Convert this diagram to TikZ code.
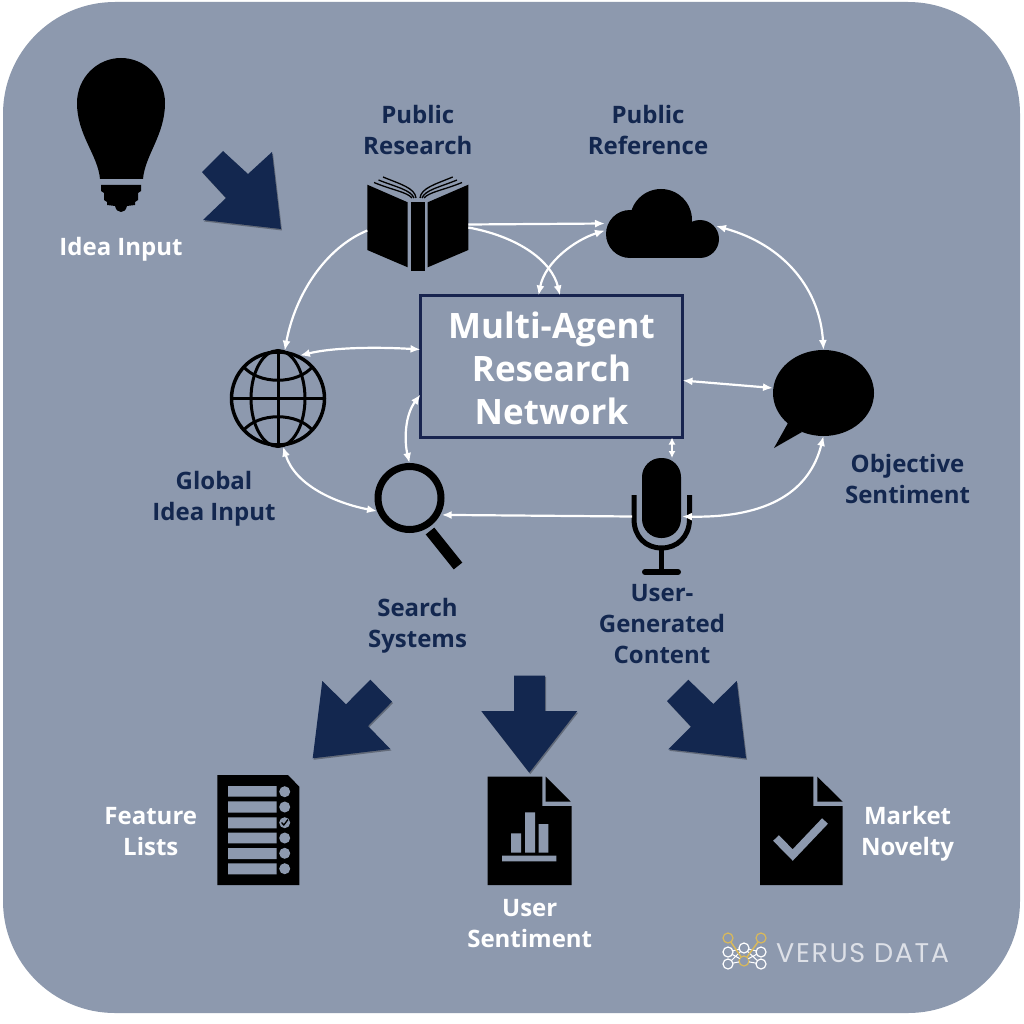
\documentclass[tikz,border=0pt]{standalone}
\usepackage{fontspec}
\setmainfont{Open Sans}
\newfontfamily\logofont{Poppins}[LetterSpace=6]
\usepackage{xcolor}
\usepackage{tikz}
\usetikzlibrary{positioning, arrows, arrows.meta, shadows, shapes.geometric}

\definecolor{slatebg}{HTML}{8D99AE}
\definecolor{navyink}{HTML}{13274F}
\definecolor{netborder}{HTML}{18244F}
\definecolor{logogold}{HTML}{D9B95A}

\begin{document}
\begin{tikzpicture}[
    x=1pt, y=-1pt,
    iconbox/.style 2 args = {rectangle, minimum width=#1, minimum height=#2,
                  inner sep=0pt, outer sep=0pt},
    navylabel/.style = {text=navyink, align=center, inner sep=0pt, font=\fontsize{24}{31}\selectfont\bfseries},
    whitelabel/.style = {text=white, align=center, inner sep=0pt, font=\fontsize{24}{31}\selectfont\bfseries},
    logodot/.style = {circle, draw=#1, line width=1.2pt, minimum size=10pt,
                  inner sep=0pt, outer sep=0pt},
    logodot/.default = white
    ]
            % styles
            \tikzstyle{arrow} = [line width=2.2pt,->,>={Latex[length=10pt,width=8pt]},draw=white]
            \tikzstyle{blockarrow} = [fill=navyink, drop shadow={shadow xshift=1pt, shadow yshift=-1.5pt, opacity=0.3, fill=black}]
            \tikzstyle{ink} = [fill=black]
            \tikzstyle{cutout} = [fill=slatebg]

            \useasboundingbox (0,0) rectangle (1024,1024);
            \fill [white] (0,0) rectangle (1024,1024);
            \fill [slatebg, rounded corners=112pt] (3,2) rectangle (1020,1013);

            % bulb
            \node (bulb) [iconbox={90pt}{156pt}] at (121,135) {};
            \fill [ink] (100,179) .. controls (98,155) and (77,135) .. (77,103) .. controls (77,78) and (97,58) .. (121,58)
                .. controls (145,58) and (165,78) .. (165,103) .. controls (165,135) and (145,155) .. (143,179) -- cycle;
            \fill [ink] (101,185) -- (141,185) -- (141,191) -- (138,193) -- (138,200) -- (135,202) -- (135,205) -- (127,206)
                .. controls (126,210) and (124,212) .. (121,212) .. controls (118,212) and (116,210) .. (115,206)
                -- (107,205) -- (107,202) -- (104,200) -- (104,193) -- (101,191) -- cycle;
            \node (idealab) [whitelabel, below=24pt of bulb] {Idea Input};
            \fill [blockarrow] (223,151) -- (248,174) -- (272,152) -- (281,229) -- (203,220) -- (226,198) -- (202,172) -- cycle;

            % book
            \node (book) [iconbox={101pt}{93pt}] at (417.8,224.5) {};
            \fill [ink] (367.3,184.7) -- (407.7,202.3) -- (407.7,267.3) -- (367.3,250) -- cycle;
            \fill [ink] (411,202.3) rectangle (425,271);
            \fill [ink] (427.7,202.3) -- (468.3,184.7) -- (468.3,250) -- (427.7,267.3) -- cycle;
            \draw [line width=1.3pt] (383,177) .. controls (400,184) and (415,188) .. (416,198);
            \draw [line width=1.3pt] (378.5,180) .. controls (396,187) and (411,190) .. (414,198);
            \draw [line width=1.3pt] (374,182.5) .. controls (392,190) and (407,192) .. (412,198);
            \draw [line width=1.3pt] (452.7,177) .. controls (436,184) and (421,188) .. (420,198);
            \draw [line width=1.3pt] (457,180) .. controls (440,187) and (425,190) .. (422,198);
            \draw [line width=1.3pt] (462,182.5) .. controls (444,190) and (429,192) .. (424,198);
            \node (reslab) [navylabel, above=23pt of book] {Public\\Research};

            % cloud
            \node (cloud) [iconbox={114pt}{69pt}] at (662,223.5) {};
            \fill [ink] (661,220) circle (31);
            \fill [ink] (630,234) circle (24);
            \fill [ink] (700,239) circle (19);
            \fill [ink] (630,258) rectangle (700,225);
            \node (reflab) [navylabel, above=34pt of cloud, xshift=-14pt] {Public\\Reference};

            % centre
            \node (net) [iconbox={262pt}{142pt}, draw=netborder, line width=3.5pt] at (551.5,366.5) {};
            \node (nettext) [text=white, align=center, inner sep=0pt, yshift=-2pt,
                font=\fontsize{35}{43}\selectfont\bfseries] at (net) {Multi-Agent\\Research\\Network};

            % globe
            \node (globe) [circle, draw=black, line width=3.5pt, minimum size=93pt, inner sep=0pt] at (278,398.5) {};
            \draw [line width=3pt] (278,398.5) ellipse (27 and 48);
            \draw [line width=3pt] (globe.north) -- (globe.south);
            \draw [line width=3pt] (globe.west) -- (globe.east);
            \draw [line width=3pt] (243,366) .. controls (258,385) and (298,385) .. (313,366);
            \draw [line width=3pt] (243,431) .. controls (258,412) and (298,412) .. (313,431);
            \node (globlab) [navylabel, below=24pt of globe, xshift=-64pt] {Global\\Idea Input};

            % lens
            \node (lens) [circle, draw=black, line width=7pt, minimum size=63pt, inner sep=0pt, outer sep=3.5pt] at (409.5,498) {};
            \draw [line width=11pt] (430,531) -- (458,566);
            \node (searchlab) [navylabel, below=65pt of lens, xshift=8pt] {Search\\Systems};

            % mic
            \node (mic) [iconbox={60pt}{117pt}] at (662,516.5) {};
            \fill [ink, rounded corners=19pt] (642,458) rectangle (681,538);
            \draw [line width=5pt] (634,495) -- (634,519) .. controls (634,537) and (646,548) .. (661.5,548)
                .. controls (677,548) and (689.5,537) .. (689.5,519) -- (689.5,495);
            \draw [line width=5pt] (661.5,548) -- (661.5,571);
            \draw [line width=6pt, line cap=round] (645,572) -- (678,572);
            \node (ugclab) [navylabel, below=9pt of mic] {User-\\Generated\\Content};

            % bubble
            \node (bubble) [ellipse, ink, minimum width=101pt, minimum height=86pt, inner sep=0pt, outer sep=0pt] at (823.5,393) {};
            \fill [ink] (788,423) -- (774,448) -- (802,432) -- cycle;
            \node (sentlab) [navylabel, below=18pt of bubble, xshift=84pt] {Objective\\Sentiment};

            \draw [arrow] (book.east) -- (cloud.west);
            \draw [arrow] ([yshift=-3pt]book.east) .. controls (520,237) and (552,262) .. ([xshift=8.5pt]net.north);
            \draw [arrow, <->] ([yshift=-7pt]cloud.west) .. controls (575,240) and (545,262) .. ([xshift=-13pt]net.north);
            \draw [arrow] ([yshift=-6pt]book.west) .. controls (325,248) and (295,295) .. (globe.82);
            \draw [arrow, <->] ([xshift=-3pt,yshift=-2.5pt]cloud.east) .. controls (785,245) and (820,290) .. (bubble.north);
            \draw [arrow, <->] (globe.63) .. controls (335,347) and (380,347) .. ([yshift=17pt]net.west);
            \draw [arrow, <->] ([yshift=-14pt]net.east) -- ([yshift=5pt]bubble.west);
            \draw [arrow, <->] ([yshift=-28pt]net.west) .. controls (405,415) and (404,440) .. (lens.north);
            \draw [arrow, <->, >={Latex[length=7pt,width=7pt]}] ([xshift=120.5pt]net.south) -- ([xshift=10pt]mic.north);
            \draw [arrow, <->] (globe.-84) .. controls (295,485) and (335,503) .. (lens.202);
            \draw [arrow] (mic.west) -- ([xshift=1pt,yshift=-1pt]lens.-27);
            \draw [arrow, <->] ([xshift=-10pt]mic.east) .. controls (770,518) and (810,490) .. (bubble.south);

            % lower arrows
            \fill [blockarrow] (322.3,681) -- (346,704.3) -- (370.3,679.7) -- (392,701.7) -- (368,726) -- (390.3,749) -- (312.7,758.3) -- cycle;
            \fill [blockarrow] (514,675.7) -- (545,675.7) -- (545,711) -- (577.3,711) -- (529.3,772.7) -- (481.3,711) -- (514,711) -- cycle;
            \fill [blockarrow] (688.3,679.7) -- (713.3,704) -- (736.7,681) -- (746,758.3) -- (668.3,749.3) -- (691,726.7) -- (667,701) -- cycle;

            % list document
            \node (listdoc) [iconbox={82pt}{110pt}] at (258.3,830) {};
            \fill [ink] (217.3,775) -- (288,775) -- (299.3,786.7) -- (299.3,885) -- (217.3,885) -- cycle;
            \fill [cutout] (228,786) rectangle (276.7,796.7) (228,801.3) rectangle (276.7,812.7)
                (228,817.3) rectangle (276.7,828.3) (228,832.7) rectangle (276.7,843.3)
                (228,848) rectangle (276.7,859) (228,863.3) rectangle (276.7,874.3);
            \fill [cutout] (284.7,791.7) circle (5.5) (284.7,807) circle (5.5) (284.7,822.7) circle (5.5)
                (284.7,838) circle (5.5) (284.7,853.3) circle (5.5) (284.7,868.7) circle (5.5);
            \draw [line width=1.3pt] (281.5,822.5) -- (283.8,825) -- (288,819.5);
            \node (featlab) [whitelabel, left=20pt of listdoc, yshift=-2pt] {Feature\\Lists};

            % chart document
            \node (chartdoc) [iconbox={84pt}{108pt}] at (529.7,831) {};
            \fill [ink] (487.7,776.7) -- (542.3,776.7) -- (542.3,806) -- (571.7,806) -- (571.7,885) -- (487.7,885) -- cycle;
            \fill [ink] (545.7,776.7) -- (570.7,801.7) -- (545.7,801.7) -- cycle;
            \fill [cutout] (511,833.3) rectangle (521,852.7) (525,812.3) rectangle (535,852.7)
                (538.7,824) rectangle (548.3,852.7) (502,855.7) rectangle (556.3,861.3);
            \node (userlab) [whitelabel, below=14pt of chartdoc] {User\\Sentiment};

            % check document
            \node (checkdoc) [iconbox={83pt}{108pt}] at (801.3,831) {};
            \fill [ink] (760,776.7) -- (813.3,776.7) -- (813.3,806) -- (842.7,806) -- (842.7,885) -- (760,885) -- cycle;
            \fill [ink] (817.3,776.7) -- (842.7,801.7) -- (817.3,801.7) -- cycle;
            \draw [draw=slatebg, line width=8pt] (776,838) -- (792.7,855) -- (825,821);
            \node (marklab) [whitelabel, right=18pt of checkdoc, yshift=-3pt] {Market\\Novelty};

            % logo
            \node (lgone) [logodot=logogold] at (728,938) {};
            \node (lgtwo) [logodot] at (728,952) {};
            \node (lgthree) [logodot] at (728,964) {};
            \node (lgfour) [logodot] at (744,948) {};
            \node (lgfive) [logodot=logogold] at (744,961) {};
            \node (lgsix) [logodot=logogold] at (761,938) {};
            \node (lgseven) [logodot] at (761,952) {};
            \node (lgeight) [logodot] at (761,964) {};
            \draw [white, line width=1pt] (lgtwo) -- (lgfour) (lgtwo) -- (lgfive) (lgthree) -- (lgfour) (lgthree) -- (lgfive);
            \draw [white, line width=1pt] (lgseven) -- (lgfour) (lgseven) -- (lgfive) (lgeight) -- (lgfour) (lgeight) -- (lgfive);
            \draw [logogold, line width=1.5pt] (lgone) -- (lgfive) -- (lgsix);
            \node (logotext) [right=10pt of lgseven, inner sep=0pt, yshift=-1pt, text=white!70!slatebg, font=\logofont\fontsize{27}{30}\selectfont] {VERUS DATA};
    \end{tikzpicture}
\end{document}
